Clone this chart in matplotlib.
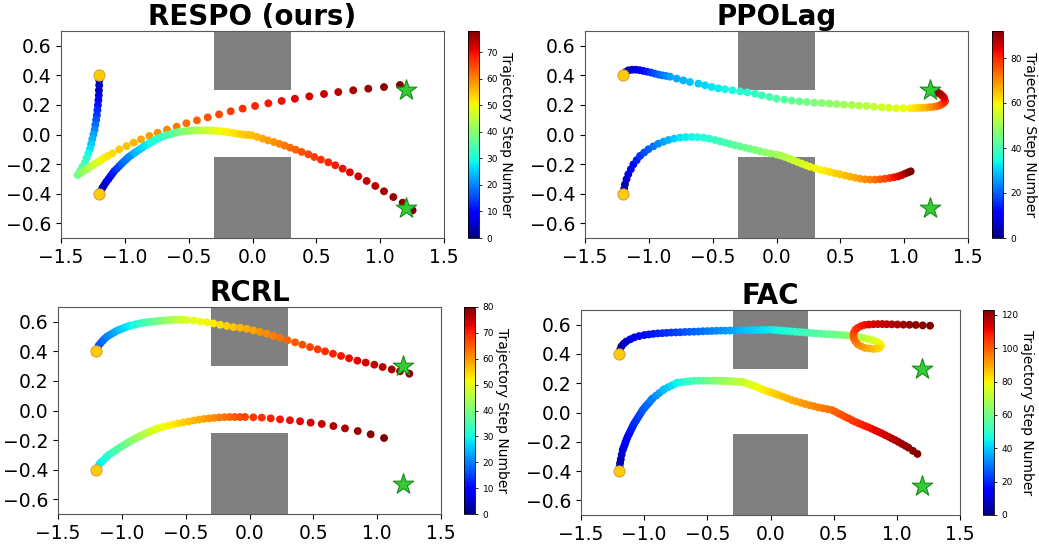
import matplotlib
matplotlib.use("Agg")
import matplotlib.pyplot as plt
from matplotlib.patches import Rectangle
import numpy as np

# trajectories as (step, x, y)
respo_top = [
    (0, -1.200, 0.400), (2, -1.200, 0.366), (4, -1.201, 0.333), (5, -1.203, 0.299),
    (7, -1.204, 0.265), (9, -1.207, 0.232), (11, -1.211, 0.198), (13, -1.215, 0.165),
    (14, -1.219, 0.131), (16, -1.225, 0.099), (18, -1.231, 0.065), (20, -1.237, 0.032),
    (22, -1.246, 0.000), (24, -1.255, -0.032), (25, -1.264, -0.065), (27, -1.273, -0.097),
    (29, -1.286, -0.129), (31, -1.300, -0.160), (33, -1.313, -0.191), (34, -1.332, -0.218),
    (36, -1.351, -0.246), (38, -1.370, -0.274), (40, -1.347, -0.261), (41, -1.324, -0.248),
    (43, -1.300, -0.235), (44, -1.277, -0.222), (46, -1.253, -0.209), (47, -1.230, -0.196),
    (48, -1.207, -0.184), (50, -1.183, -0.171), (51, -1.160, -0.158), (52, -1.134, -0.145),
    (53, -1.095, -0.127), (54, -1.043, -0.100), (55, -0.986, -0.078), (56, -0.931, -0.055),
    (57, -0.873, -0.033), (58, -0.808, -0.010), (59, -0.743, 0.012), (60, -0.670, 0.033),
    (61, -0.594, 0.053), (62, -0.518, 0.076), (63, -0.435, 0.096), (64, -0.351, 0.116),
    (65, -0.262, 0.136), (66, -0.171, 0.157), (67, -0.077, 0.175), (68, 0.020, 0.193),
    (69, 0.124, 0.211), (70, 0.228, 0.227), (71, 0.332, 0.242), (72, 0.445, 0.258),
    (73, 0.560, 0.274), (74, 0.672, 0.287), (75, 0.789, 0.299), (76, 0.907, 0.310),
    (77, 1.030, 0.321), (78, 1.155, 0.335),
]
respo_bottom = [
    (0, -1.200, -0.400), (2, -1.187, -0.380), (3, -1.174, -0.359), (5, -1.160, -0.340),
    (6, -1.145, -0.320), (8, -1.129, -0.302), (9, -1.113, -0.283), (11, -1.098, -0.265),
    (12, -1.082, -0.247), (14, -1.063, -0.231), (15, -1.044, -0.214), (17, -1.026, -0.198),
    (18, -1.007, -0.182), (19, -0.988, -0.167), (20, -0.969, -0.152), (21, -0.948, -0.139),
    (23, -0.927, -0.126), (24, -0.906, -0.114), (25, -0.885, -0.101), (26, -0.864, -0.089),
    (27, -0.843, -0.076), (28, -0.821, -0.066), (29, -0.799, -0.055), (30, -0.777, -0.045),
    (30, -0.755, -0.035), (31, -0.733, -0.025), (32, -0.710, -0.015), (33, -0.687, -0.009),
    (34, -0.663, -0.003), (35, -0.640, 0.003), (36, -0.616, 0.009), (37, -0.592, 0.014),
    (38, -0.568, 0.019), (39, -0.544, 0.021), (40, -0.519, 0.023), (41, -0.495, 0.025),
    (42, -0.470, 0.027), (43, -0.446, 0.028), (44, -0.421, 0.028), (45, -0.397, 0.028),
    (46, -0.372, 0.028), (46, -0.348, 0.028), (47, -0.323, 0.028), (48, -0.299, 0.026),
    (49, -0.274, 0.024), (50, -0.250, 0.022), (50, -0.226, 0.020), (51, -0.202, 0.017),
    (51, -0.177, 0.014), (52, -0.154, 0.011), (52, -0.130, 0.007), (53, -0.106, 0.004),
    (54, -0.081, 0.000), (54, -0.057, -0.002), (55, -0.032, -0.003), (55, -0.007, -0.005),
    (56, 0.036, -0.016), (57, 0.079, -0.028), (58, 0.122, -0.040), (59, 0.168, -0.051),
    (60, 0.210, -0.063), (61, 0.252, -0.075), (62, 0.295, -0.089), (63, 0.338, -0.103),
    (64, 0.385, -0.118), (65, 0.437, -0.134), (66, 0.484, -0.152), (67, 0.536, -0.170),
    (68, 0.594, -0.188), (69, 0.648, -0.208), (70, 0.706, -0.231), (71, 0.763, -0.256),
    (72, 0.829, -0.283), (73, 0.894, -0.314), (74, 0.962, -0.348), (75, 1.030, -0.384),
    (76, 1.103, -0.423), (77, 1.176, -0.461), (78, 1.254, -0.513),
]

ppolag_top = [
    (0, -1.200, 0.400), (2, -1.183, 0.422), (4, -1.160, 0.434), (6, -1.131, 0.438),
    (8, -1.101, 0.438), (10, -1.071, 0.435), (12, -1.042, 0.430), (14, -1.013, 0.425),
    (16, -0.983, 0.419), (18, -0.954, 0.412), (20, -0.924, 0.405), (22, -0.894, 0.400),
    (24, -0.864, 0.396), (26, -0.834, 0.391), (27, -0.782, 0.378), (28, -0.730, 0.366),
    (29, -0.678, 0.355), (30, -0.612, 0.344), (31, -0.560, 0.333), (32, -0.508, 0.321),
    (33, -0.456, 0.312), (34, -0.403, 0.306), (35, -0.346, 0.299), (36, -0.286, 0.292),
    (37, -0.228, 0.285), (38, -0.168, 0.276), (39, -0.116, 0.265), (40, -0.056, 0.254),
    (41, 0.001, 0.242), (42, 0.061, 0.236), (43, 0.119, 0.229), (44, 0.179, 0.224),
    (45, 0.236, 0.220), (46, 0.296, 0.215), (47, 0.354, 0.213), (48, 0.414, 0.209),
    (49, 0.471, 0.206), (50, 0.529, 0.202), (51, 0.589, 0.200), (52, 0.646, 0.195),
    (53, 0.706, 0.193), (54, 0.764, 0.188), (55, 0.824, 0.184), (56, 0.881, 0.181),
    (57, 0.936, 0.177), (58, 0.993, 0.177), (60, 1.046, 0.177), (61, 1.072, 0.178),
    (62, 1.098, 0.179), (63, 1.124, 0.180), (65, 1.150, 0.181), (66, 1.176, 0.182),
    (68, 1.202, 0.184), (70, 1.228, 0.187), (72, 1.255, 0.191), (74, 1.276, 0.196),
    (76, 1.294, 0.204), (78, 1.310, 0.214), (81, 1.320, 0.227), (84, 1.312, 0.249),
    (85, 1.300, 0.261), (87, 1.286, 0.272), (88, 1.270, 0.280), (90, 1.255, 0.287),
    (92, 1.228, 0.299),
]
ppolag_bottom = [
    (0, -1.200, -0.400), (2, -1.193, -0.368), (4, -1.187, -0.337), (6, -1.175, -0.303),
    (8, -1.161, -0.269), (10, -1.141, -0.235), (12, -1.121, -0.202), (14, -1.095, -0.173),
    (16, -1.069, -0.145), (18, -1.037, -0.122), (20, -1.004, -0.100), (22, -0.965, -0.080),
    (24, -0.926, -0.062), (26, -0.886, -0.049), (28, -0.847, -0.037), (30, -0.802, -0.028),
    (32, -0.756, -0.021), (33, -0.710, -0.018), (34, -0.664, -0.017), (35, -0.618, -0.018),
    (36, -0.573, -0.021), (37, -0.528, -0.028), (38, -0.482, -0.037), (39, -0.442, -0.046),
    (40, -0.403, -0.055), (41, -0.364, -0.064), (42, -0.325, -0.073), (43, -0.286, -0.081),
    (44, -0.247, -0.089), (45, -0.208, -0.097), (46, -0.168, -0.105), (47, -0.129, -0.113),
    (48, -0.090, -0.121), (49, -0.045, -0.128), (50, 0.001, -0.136), (51, 0.034, -0.143),
    (52, 0.067, -0.152), (53, 0.100, -0.163), (54, 0.132, -0.175), (55, 0.165, -0.186),
    (56, 0.197, -0.197), (57, 0.230, -0.208), (58, 0.262, -0.218), (59, 0.302, -0.228),
    (60, 0.341, -0.238), (61, 0.380, -0.246), (62, 0.419, -0.254), (63, 0.458, -0.262),
    (64, 0.497, -0.269), (65, 0.537, -0.277), (66, 0.576, -0.285), (67, 0.615, -0.292),
    (68, 0.654, -0.299), (70, 0.693, -0.303), (71, 0.732, -0.305), (73, 0.772, -0.305),
    (75, 0.811, -0.303), (77, 0.850, -0.299), (79, 0.889, -0.294), (82, 0.922, -0.289),
    (84, 0.954, -0.283), (86, 0.980, -0.275), (88, 1.006, -0.265), (90, 1.030, -0.257),
    (92, 1.051, -0.249),
]

rcrl_top = [
    (0, -1.200, 0.400), (7, -1.200, 0.400), (14, -1.200, 0.400), (15, -1.191, 0.420),
    (16, -1.181, 0.440), (17, -1.166, 0.456), (18, -1.150, 0.472), (19, -1.134, 0.486),
    (20, -1.117, 0.499), (21, -1.097, 0.510), (22, -1.077, 0.520), (23, -1.057, 0.530),
    (24, -1.037, 0.540), (25, -1.017, 0.547), (26, -0.996, 0.554), (27, -0.975, 0.562),
    (28, -0.953, 0.569), (29, -0.932, 0.574), (30, -0.910, 0.578), (31, -0.889, 0.583),
    (32, -0.867, 0.588), (33, -0.845, 0.591), (34, -0.823, 0.594), (35, -0.801, 0.597),
    (36, -0.779, 0.599), (37, -0.757, 0.601), (38, -0.735, 0.603), (39, -0.713, 0.605),
    (40, -0.690, 0.607), (41, -0.668, 0.609), (42, -0.645, 0.610), (43, -0.623, 0.612),
    (44, -0.601, 0.613), (45, -0.579, 0.614), (46, -0.557, 0.614), (47, -0.539, 0.614),
    (48, -0.520, 0.613), (49, -0.490, 0.612), (50, -0.438, 0.609), (51, -0.386, 0.602),
    (52, -0.334, 0.597), (53, -0.282, 0.589), (54, -0.230, 0.580), (55, -0.178, 0.572),
    (56, -0.126, 0.564), (57, -0.074, 0.560), (58, -0.022, 0.553), (59, 0.030, 0.542),
    (60, 0.082, 0.531), (61, 0.135, 0.520), (62, 0.187, 0.504), (63, 0.239, 0.493),
    (64, 0.299, 0.475), (65, 0.357, 0.461), (66, 0.414, 0.445), (67, 0.474, 0.429),
    (68, 0.534, 0.414), (69, 0.592, 0.400), (70, 0.654, 0.384), (71, 0.717, 0.369),
    (72, 0.780, 0.353), (73, 0.845, 0.337), (74, 0.910, 0.324), (75, 0.978, 0.310),
    (76, 1.043, 0.294), (77, 1.114, 0.278), (78, 1.179, 0.265), (79, 1.252, 0.249),
]
rcrl_bottom = [
    (0, -1.200, -0.405), (13, -1.200, -0.405), (26, -1.200, -0.405), (27, -1.188, -0.384),
    (28, -1.176, -0.363), (29, -1.160, -0.348), (30, -1.141, -0.332), (31, -1.123, -0.316),
    (32, -1.104, -0.301), (33, -1.083, -0.289), (34, -1.063, -0.278), (35, -1.043, -0.266),
    (36, -1.022, -0.254), (37, -1.001, -0.243), (38, -0.980, -0.232), (39, -0.960, -0.221),
    (40, -0.938, -0.210), (41, -0.917, -0.199), (42, -0.895, -0.189), (43, -0.873, -0.179),
    (44, -0.851, -0.170), (45, -0.829, -0.161), (46, -0.807, -0.152), (47, -0.785, -0.144),
    (48, -0.762, -0.136), (49, -0.740, -0.128), (50, -0.717, -0.120), (51, -0.677, -0.111),
    (52, -0.637, -0.102), (53, -0.597, -0.094), (54, -0.557, -0.087), (55, -0.516, -0.080),
    (56, -0.476, -0.074), (57, -0.436, -0.067), (58, -0.396, -0.062), (59, -0.356, -0.057),
    (60, -0.316, -0.053), (61, -0.276, -0.050), (62, -0.236, -0.047), (63, -0.196, -0.045),
    (64, -0.155, -0.044), (65, -0.115, -0.044), (66, -0.075, -0.044), (67, -0.035, -0.044),
    (68, 0.030, -0.046), (69, 0.096, -0.048), (70, 0.166, -0.053), (71, 0.239, -0.060),
    (72, 0.317, -0.066), (73, 0.396, -0.073), (74, 0.479, -0.082), (75, 0.566, -0.091),
    (76, 0.657, -0.105), (77, 0.748, -0.121), (78, 0.848, -0.139), (79, 0.949, -0.161),
    (80, 1.054, -0.186),
]

fac_top = [
    (0, -1.197, 0.404), (2, -1.190, 0.428), (4, -1.180, 0.452), (6, -1.162, 0.470),
    (8, -1.142, 0.485), (10, -1.110, 0.500), (12, -1.078, 0.513), (14, -1.040, 0.522),
    (16, -0.999, 0.529), (17, -0.963, 0.533), (18, -0.928, 0.537), (19, -0.892, 0.540),
    (20, -0.856, 0.542), (21, -0.821, 0.544), (22, -0.785, 0.546), (23, -0.749, 0.547),
    (24, -0.714, 0.548), (25, -0.678, 0.550), (26, -0.642, 0.551), (27, -0.606, 0.552),
    (28, -0.571, 0.553), (29, -0.535, 0.555), (30, -0.499, 0.556), (31, -0.464, 0.557),
    (32, -0.428, 0.558), (33, -0.392, 0.559), (34, -0.357, 0.559), (35, -0.321, 0.560),
    (36, -0.285, 0.560), (37, -0.250, 0.561), (38, -0.214, 0.562), (39, -0.178, 0.562),
    (40, -0.143, 0.563), (41, -0.107, 0.563), (42, -0.071, 0.564), (43, -0.036, 0.564),
    (44, 0.000, 0.565), (45, 0.033, 0.563), (46, 0.067, 0.561), (47, 0.100, 0.558),
    (48, 0.133, 0.556), (49, 0.167, 0.554), (50, 0.200, 0.551), (51, 0.233, 0.549),
    (52, 0.267, 0.547), (53, 0.300, 0.545), (54, 0.333, 0.542), (55, 0.367, 0.540),
    (56, 0.400, 0.538), (57, 0.433, 0.536), (58, 0.467, 0.535), (59, 0.500, 0.533),
    (60, 0.533, 0.531), (61, 0.567, 0.529), (62, 0.600, 0.527), (64, 0.635, 0.524),
    (66, 0.669, 0.520), (68, 0.704, 0.514), (70, 0.738, 0.508), (72, 0.772, 0.501),
    (74, 0.806, 0.494), (76, 0.839, 0.484), (78, 0.866, 0.470), (80, 0.874, 0.455),
    (82, 0.866, 0.443), (84, 0.845, 0.436), (86, 0.815, 0.434), (88, 0.785, 0.437),
    (90, 0.749, 0.441), (92, 0.718, 0.452), (94, 0.691, 0.466), (96, 0.672, 0.485),
    (98, 0.660, 0.505), (100, 0.657, 0.525), (102, 0.659, 0.545), (104, 0.672, 0.565),
    (106, 0.690, 0.578), (108, 0.715, 0.590), (110, 0.745, 0.598), (112, 0.778, 0.601),
    (113, 0.815, 0.603), (114, 0.850, 0.604), (115, 0.885, 0.604), (116, 0.920, 0.603),
    (117, 0.960, 0.602), (118, 1.005, 0.601), (119, 1.052, 0.600), (120, 1.100, 0.599),
    (121, 1.150, 0.598), (122, 1.205, 0.595), (123, 1.263, 0.593),
]
fac_bottom = [
    (0, -1.197, -0.400), (2, -1.194, -0.372), (4, -1.191, -0.346), (6, -1.185, -0.320),
    (8, -1.178, -0.288), (10, -1.170, -0.256), (11, -1.162, -0.238), (12, -1.154, -0.220),
    (13, -1.147, -0.201), (14, -1.139, -0.183), (15, -1.131, -0.165), (16, -1.120, -0.147),
    (17, -1.110, -0.129), (18, -1.099, -0.110), (19, -1.089, -0.092), (20, -1.078, -0.074),
    (21, -1.065, -0.056), (22, -1.052, -0.038), (23, -1.038, -0.019), (24, -1.025, -0.001),
    (25, -1.012, 0.017), (26, -0.999, 0.030), (27, -0.986, 0.044), (28, -0.973, 0.057),
    (29, -0.959, 0.070), (30, -0.946, 0.084), (31, -0.933, 0.097), (33, -0.906, 0.115),
    (35, -0.880, 0.133), (37, -0.853, 0.151), (38, -0.840, 0.160), (40, -0.810, 0.173),
    (42, -0.780, 0.185), (44, -0.750, 0.198), (45, -0.735, 0.204), (47, -0.702, 0.207),
    (49, -0.669, 0.210), (51, -0.636, 0.214), (53, -0.603, 0.217), (55, -0.568, 0.217),
    (57, -0.533, 0.217), (59, -0.498, 0.217), (61, -0.463, 0.217), (62, -0.445, 0.217),
    (63, -0.423, 0.217), (64, -0.401, 0.217), (65, -0.379, 0.216), (66, -0.357, 0.216),
    (67, -0.335, 0.215), (68, -0.313, 0.215), (69, -0.292, 0.213), (70, -0.271, 0.211),
    (71, -0.249, 0.210), (72, -0.228, 0.208), (73, -0.207, 0.206), (74, -0.186, 0.199),
    (75, -0.165, 0.192), (76, -0.144, 0.186), (77, -0.123, 0.179), (78, -0.102, 0.172),
    (79, -0.081, 0.164), (80, -0.060, 0.156), (81, -0.039, 0.149), (82, -0.017, 0.143),
    (83, 0.004, 0.138), (84, 0.024, 0.131), (85, 0.044, 0.125), (86, 0.063, 0.120),
    (87, 0.098, 0.108), (88, 0.133, 0.097), (89, 0.168, 0.085), (90, 0.203, 0.076),
    (91, 0.239, 0.067), (92, 0.274, 0.058), (93, 0.309, 0.050), (94, 0.344, 0.043),
    (95, 0.379, 0.035), (96, 0.414, 0.029), (97, 0.450, 0.023), (98, 0.485, 0.017),
    (99, 0.511, 0.006), (100, 0.538, -0.006), (101, 0.564, -0.017), (102, 0.590, -0.029),
    (103, 0.617, -0.040), (104, 0.643, -0.052), (105, 0.669, -0.063), (106, 0.696, -0.073),
    (107, 0.722, -0.082), (108, 0.749, -0.092), (109, 0.775, -0.101), (110, 0.801, -0.111),
    (111, 0.828, -0.122), (112, 0.854, -0.132), (113, 0.880, -0.142), (114, 0.907, -0.154),
    (115, 0.933, -0.165), (116, 0.960, -0.177), (117, 0.986, -0.188), (118, 1.013, -0.201),
    (119, 1.039, -0.214), (120, 1.066, -0.227), (121, 1.092, -0.240), (122, 1.128, -0.262),
    (123, 1.163, -0.283),
]

titles = ["RESPO (ours)", "PPOLag", "RCRL", "FAC"]
trajectories = [
    [respo_top, respo_bottom],
    [ppolag_top, ppolag_bottom],
    [rcrl_top, rcrl_bottom],
    [fac_top, fac_bottom],
]
step_max = [78, 92, 80, 123]
cbar_ticks = [
    [0, 10, 20, 30, 40, 50, 60, 70],
    [0, 20, 40, 60, 80],
    [0, 10, 20, 30, 40, 50, 60, 70, 80],
    [0, 20, 40, 60, 80, 100, 120],
]

starts_x = [-1.2, -1.2]
starts_y = [0.4, -0.4]
goals_x = [1.2, 1.2]
goals_y = [0.3, -0.5]
# obstacles: (x, y, width, height)
obstacles = [(-0.3, 0.3, 0.6, 0.4), (-0.3, -0.7, 0.6, 0.55)]

W, H = 1039, 546
# pixel boxes (left, top, right, bottom) of axes and colorbars
ax_boxes = [(61, 31, 444, 238), (585, 31, 968, 238), (58, 307, 441, 514), (581, 310, 960, 515)]
cb_boxes = [(468, 31, 479, 238), (992, 31, 1003, 238), (464, 307, 475, 514), (983, 310, 994, 515)]


def rect(box):
    l, t, r, b = box
    return [l / W, 1 - b / H, (r - l) / W, (b - t) / H]


fig = plt.figure(figsize=(W / 100, H / 100), dpi=100)

for i in range(4):
    ax = fig.add_axes(rect(ax_boxes[i]))
    cax = fig.add_axes(rect(cb_boxes[i]))

    for (ox, oy, ow, oh) in obstacles:
        ax.add_patch(Rectangle((ox, oy), ow, oh, facecolor="#808080", edgecolor="none", zorder=1))

    for traj in trajectories[i]:
        d = np.array(traj)
        sc = ax.scatter(d[:, 1], d[:, 2], c=d[:, 0], cmap="jet", vmin=0, vmax=step_max[i],
                        s=32, edgecolors="none", zorder=2)

    ax.scatter(starts_x, starts_y, s=64, color="#ffcc00", edgecolors="#d9a441",
               linewidths=0.8, zorder=3)
    ax.scatter(goals_x, goals_y, s=240, marker="*", color="#33cc33", edgecolors="#1a8a1a",
               linewidths=0.8, zorder=4)

    ax.set_xlim(-1.5, 1.5)
    ax.set_ylim(-0.7, 0.7)
    ax.set_xticks([-1.5, -1.0, -0.5, 0.0, 0.5, 1.0, 1.5])
    ax.set_yticks([-0.6, -0.4, -0.2, 0.0, 0.2, 0.4, 0.6])
    ax.tick_params(labelsize=13.5)
    for sp in ax.spines.values():
        sp.set_color("0.35")
    ax.set_title(titles[i], fontsize=20, fontweight="bold", pad=4)

    cb = fig.colorbar(sc, cax=cax, ticks=cbar_ticks[i])
    cb.outline.set_linewidth(0.6)
    cax.tick_params(labelsize=6.5, length=2, width=0.6)
    cb.set_label("Trajectory Step Number", rotation=270, fontsize=10, labelpad=11)

fig.savefig("out.png", dpi=100)
